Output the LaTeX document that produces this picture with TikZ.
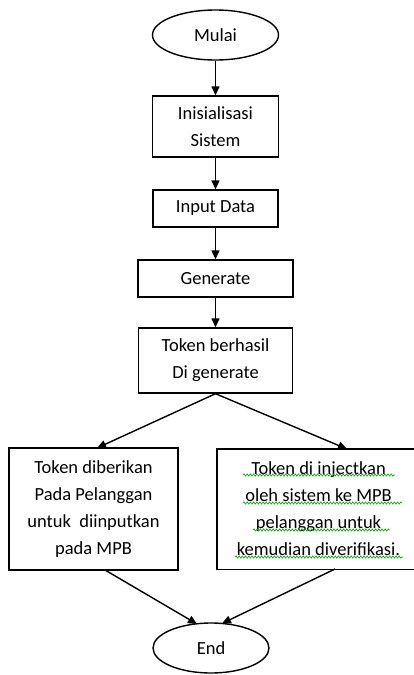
\documentclass[tikz,border=0pt]{standalone}
\usepackage{fontspec}
\setmainfont{Carlito}
\usetikzlibrary{arrows.meta,shapes.geometric,decorations.pathmorphing,calc}
\definecolor{spell}{RGB}{20,170,20}
\begin{document}
\begin{tikzpicture}[x=1pt,y=-1pt,
  every node/.style={font=\fontsize{18.5}{27}\selectfont, inner sep=0pt, align=center},
  term/.style={draw, ellipse, line width=1.4pt},
  proc/.style={draw, rectangle, line width=1.4pt},
  frame/.style={line width=1.4pt},
  flow/.style={line width=1.4pt, -{Triangle[width=8pt,length=9pt]}},
  wave/.style={draw=spell, line width=0.7pt, decorate, decoration={snake, amplitude=1.1pt, segment length=3.2pt}}
]
\useasboundingbox (0,0) rectangle (413,675);
\node[term, minimum width=126pt, minimum height=50pt] (mulai) at (215.5,35) {Mulai};
\node[proc, minimum width=126pt, minimum height=61pt] (init) at (215.5,126.5) {Inisialisasi\\Sistem};
\node[proc, minimum width=125pt, minimum height=37pt] (input) at (215.5,208.5) {Input Data};
\node[proc, minimum width=155pt, minimum height=37pt] (gen) at (215.5,278.5) {Generate};
\node[proc, minimum width=154pt, minimum height=65pt] (tok) at (215.5,360.5) {Token berhasil\\Di generate};
\node[proc, minimum width=169pt, minimum height=122pt] (left) at (93.5,509) {Token diberikan\\Pada Pelanggan\\untuk\ \ diinputkan\\pada MPB};
\node[minimum width=203pt, minimum height=120pt] (right) at (318.5,509) {Token di injectkan\\oleh sistem ke MPB\\pelanggan untuk\\kemudian diverifikasi.};
\draw[frame] (right.north west) rectangle ($(right.south east)+(40,0)$);
\node[term, minimum width=116pt, minimum height=50pt] (end) at (211,648) {End};

\coordinate (tl) at (97,448);
\coordinate (tr) at (347,449);
\coordinate (el) at (197,624);
\coordinate (er) at (222,623.5);
\coordinate (ls) at (105,570);
\coordinate (rs) at (335,569);

\draw[flow] (mulai.south) -- (init.north);
\draw[flow] (init.south) -- (input.north);
\draw[flow] (input.south) -- (gen.north);
\draw[flow] (gen.south) -- (tok.north);
\draw[flow] (tok.south) -- (tl);
\draw[flow] (tok.south) -- (tr);
\draw[flow] (ls) -- (el);
\draw[flow] (rs) -- (er);

\draw[wave] (243,475) -- (395,475);
\draw[wave] (243,503) -- (402,503);
\draw[wave] (253,530) -- (390,530);
\draw[wave] (235,557) -- (403,557);
\end{tikzpicture}
\end{document}
